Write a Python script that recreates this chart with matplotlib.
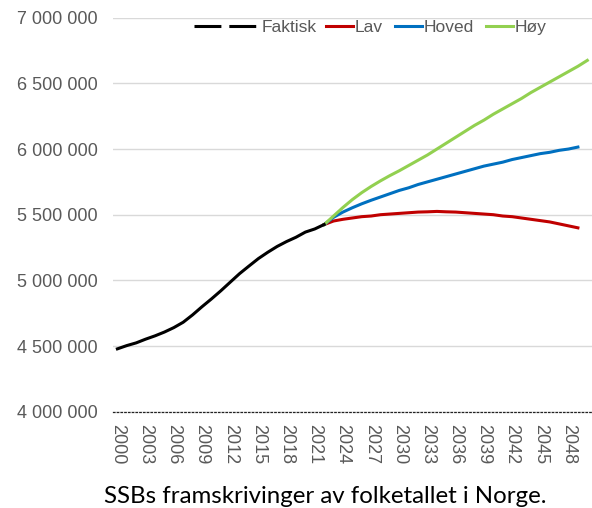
import matplotlib.pyplot as plt
from matplotlib.lines import Line2D
from matplotlib.ticker import FuncFormatter
import numpy as np

# faktisk folketall 1. januar
faktisk_aar = np.arange(2000, 2023)
faktisk = [4478497, 4503436, 4524066, 4552252, 4577457, 4606363, 4640219,
           4681134, 4737171, 4799252, 4858199, 4920305, 4985870, 5051275,
           5109056, 5165802, 5213985, 5258317, 5295619, 5328212, 5367580,
           5391369, 5425270]

# framskrivinger (lest av figuren, millioner)
lav_aar = np.arange(2022, 2050)
lav = [5.425, 5.452, 5.465, 5.475, 5.485, 5.49, 5.50, 5.505, 5.51, 5.515,
       5.52, 5.522, 5.525, 5.522, 5.52, 5.515, 5.51, 5.505, 5.50, 5.49,
       5.485, 5.475, 5.465, 5.455, 5.445, 5.43, 5.415, 5.40]
hoved_aar = np.arange(2022, 2050)
hoved = [5.425, 5.48, 5.52, 5.553, 5.583, 5.61, 5.635, 5.66, 5.685, 5.705,
         5.73, 5.75, 5.77, 5.79, 5.81, 5.83, 5.85, 5.87, 5.885, 5.90,
         5.92, 5.935, 5.95, 5.965, 5.975, 5.99, 6.0, 6.015]
hoy_aar = np.arange(2022, 2051)
hoy = [5.425, 5.49, 5.555, 5.615, 5.668, 5.715, 5.758, 5.798, 5.835, 5.875,
       5.915, 5.955, 6.0, 6.045, 6.09, 6.135, 6.18, 6.22, 6.265, 6.305,
       6.345, 6.385, 6.43, 6.47, 6.51, 6.55, 6.59, 6.63, 6.675]

tick_aar = np.arange(2000, 2049, 3)

W, H = 592, 508
fig = plt.figure(figsize=(W / 100, H / 100), dpi=100)
ax = fig.add_axes([112.7 / W, (H - 411.7) / H, 1 - 112.7 / W, (411.7 - 17.7) / H])

lw = 2.2
ax.plot(faktisk_aar, faktisk, color='black', lw=lw, zorder=4)
ax.plot(lav_aar, np.array(lav) * 1e6, color='#C00000', lw=lw, zorder=3)
ax.plot(hoved_aar, np.array(hoved) * 1e6, color='#0070C0', lw=lw, zorder=3)
ax.plot(hoy_aar, np.array(hoy) * 1e6, color='#92D050', lw=lw, zorder=3)

ax.set_xlim(1999.5, 2050.5)
ax.set_ylim(4e6, 7e6)
ax.set_yticks(np.arange(4e6, 7.01e6, 5e5))
ax.yaxis.set_major_formatter(FuncFormatter(lambda v, p: f"{v:,.0f}".replace(',', ' ')))
ax.set_xticks(tick_aar)
ax.set_xticklabels([str(a) for a in tick_aar], rotation=-90)

for s in ['top', 'right', 'left']:
    ax.spines[s].set_visible(False)
ax.spines['bottom'].set_linestyle((0, (1.2, 1.8)))
ax.spines['bottom'].set_linewidth(0.9)
ax.spines['bottom'].set_color('#222222')
ax.grid(axis='y', color='#d9d9d9', lw=1)
ax.set_axisbelow(True)
ax.tick_params(axis='both', length=0, labelsize=13, labelcolor='#595959',
               labelfontfamily='Liberation Sans')
ax.tick_params(axis='y', pad=11)
ax.tick_params(axis='x', pad=9)
for lab in ax.get_yticklabels():
    lab.set_clip_on(False)

ly = 1 - 27 / H
h1 = [Line2D([], [], color='black', lw=lw, dashes=(8.8, 2.6))]
leg1 = fig.legend(h1, ['Faktisk'], loc='center left', bbox_to_anchor=(194 / W, ly),
                  frameon=False, borderpad=0, borderaxespad=0, handlelength=3.8,
                  handletextpad=0.1, prop={'family': 'Liberation Sans', 'size': 12.5},
                  labelcolor='#595959')
h2 = [Line2D([], [], color=c, lw=lw) for c in ['#C00000', '#0070C0', '#92D050']]
leg2 = fig.legend(h2, ['Lav', 'Hoved', 'Høy'], loc='center left', bbox_to_anchor=(326 / W, ly),
                  ncol=3, frameon=False, borderpad=0, borderaxespad=0, handlelength=1.55,
                  handletextpad=0.1, columnspacing=0.7,
                  prop={'family': 'Liberation Sans', 'size': 12.5}, labelcolor='#595959')

fig.text(325 / W, (H - 503) / H, 'SSBs framskrivinger av folketallet i Norge.',
         ha='center', va='baseline', fontsize=17.3, family='Lato', color='black')

fig.savefig('out.png', dpi=100)
